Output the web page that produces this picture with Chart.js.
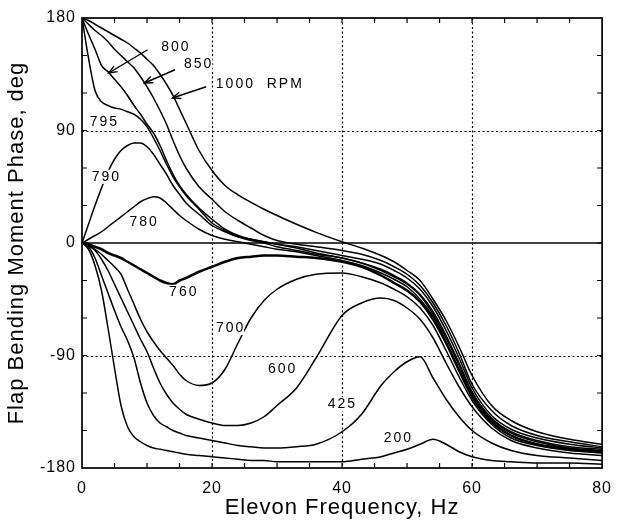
<!DOCTYPE html>
<html lang="en">
<head>
<meta charset="UTF-8">
<title>Flap Bending Moment Phase vs Elevon Frequency</title>
<script src="https://cdn.jsdelivr.net/npm/chart.js"></script>
<style>
  body { margin: 0; background: #fff; }
  canvas { display: block; }
</style>
</head>
<body>
<canvas id="chart" width="622" height="526"></canvas>
<script>
// elevon frequency, Hz (shared by every curve)
const freq = [0,1,2,3,4,5,6,7,8,9,10,11,12,13,14,15,16,18,20,22,24,26,28,30,33,36,40,43,46,48,50,52,54,56,58,60,63,66,70,75,80];

// phase, deg, one array per rotor speed (RPM)
const rpm1000 = [180,178,175,172,169,166,163,160,156,152,147,142,135,127,118,107,96, 74,58,46,38.5,32.5,27,22, 15,8.5,1,-4,-10,-15,-22,-30,-45,-62,-83,-106, -130,-142,-151,-157,-161];
const rpm850  = [180,175,170,166,161,155,150,145,140,133,125,116,106,95,82,70,60, 45,35,25,18,12,6,2, -1,-3,-6,-9,-14,-19,-25,-34,-48,-66,-88,-113, -134,-146,-154,-159,-163];
const rpm800  = [180,167,155,142,137,131,125,118,110,103,95,88,78,66,55,46,39, 28,19,11,6,3,1,-1, -3,-6,-10,-13,-17,-22,-28,-37,-51,-70,-92,-116, -138,-149,-156,-161,-164];
const rpm795  = [180,148,122,113,110,108,107,105,103,99,93,84,74,63,53,45,38, 27,16,10,5,2,0,-3, -6,-9,-12,-16,-21,-26,-32,-41,-55,-74,-96,-119, -140,-151,-158,-163,-165];
const rpm790  = [0,15,30,44,57,67,74,78,80,80,77,71,63,55,46,39,32, 23,14,9,5,3,1,-1, -4,-8,-12,-16,-22,-27,-33,-42,-57,-76,-98,-120, -141,-152,-159,-164,-166];
const rpm780  = [0,3,6,9,13,17,21,25,29,33,35.5,37,36,32,27,22,18, 11,6,3,1,-1,-3,-5, -7,-10,-14,-18,-24,-29,-35,-45,-59,-79,-101,-122, -143,-154,-161,-165,-167];
const rpm760  = [0,-1,-3,-5,-8,-10,-12,-15,-18,-21,-24,-27,-30,-32,-33,-30,-28, -23,-19,-15,-12,-11,-10,-10, -11,-12,-15,-19,-26,-32,-38,-47,-61,-80,-102,-123, -143,-154,-161,-165,-167];
const rpm700  = [0,-2,-5,-9,-14,-19,-25,-37,-49,-61,-71,-79,-86,-92,-98,-105,-110, -114,-112,-101,-80,-60,-46,-37, -29,-25,-24,-27,-32,-37,-43,-52,-66,-86,-107,-126, -145,-156,-162,-166,-168];
const rpm600  = [0,-2,-6,-13,-22,-33,-44,-55,-66,-77,-87,-100,-112,-121,-128,-133,-137, -141,-144,-146,-146,-144,-139,-130, -116,-92,-58,-48,-44,-46,-52,-61,-76,-96,-115,-131, -148,-158,-164,-168,-170];
const rpm425  = [0,-3,-12,-26,-40,-54,-67,-78,-92,-112,-128,-138,-144,-147,-150,-152,-154, -156,-158,-160,-162,-163,-164,-164, -163,-161,-151,-137,-114,-103,-95,-91,-108,-125,-139,-150, -160,-166,-170,-172,-174];
const rpm200  = [0,-5,-18,-38,-68,-100,-130,-147,-155,-159,-162,-164,-165,-166,-167,-168,-169, -170,-171,-172,-173,-174,-174,-175, -175,-175,-175,-173,-171,-168,-165,-161,-157,-161,-167,-171, -174,-175,-176,-176,-177];

const curves = [rpm1000, rpm850, rpm800, rpm795, rpm790, rpm780, rpm760, rpm700, rpm600, rpm425, rpm200];

// curve labels and leader arrows, in data units
const curveLabels = [
  { text: '800', x: 14.3, y: 157 },
  { text: '850', x: 17.8, y: 143 },
  { text: '1000  RPM', x: 27.2, y: 127 },
  { text: '795', x: 3.3, y: 97 },
  { text: '790', x: 3.6, y: 53 },
  { text: '780', x: 9.4, y: 17 },
  { text: '760', x: 15.5, y: -39 },
  { text: '700', x: 22.7, y: -68 },
  { text: '600', x: 30.7, y: -101 },
  { text: '425', x: 39.9, y: -129 },
  { text: '200', x: 48.5, y: -156 }
];
const arrows = [
  { from: [10.1, 154.6], to: [4.1, 136] },
  { from: [14.3, 138.6], to: [9.6, 128] },
  { from: [19.1, 125], to: [13.9, 116] }
];

const FONT = '"Liberation Sans", Arial, Helvetica, sans-serif';

const frame = {
  id: 'frame',
  beforeDraw(chart) {
    chart.ctx.letterSpacing = '1px';
  },
  beforeDatasetsDraw(chart) {
    const { ctx, chartArea: a, scales: { x, y } } = chart;
    ctx.save();
    ctx.strokeStyle = '#000';
    // dotted grid
    ctx.lineWidth = 1.2;
    ctx.setLineDash([2, 2.5]);
    [20, 40, 60].forEach(v => {
      const px = Math.round(x.getPixelForValue(v)) + 0.5;
      ctx.beginPath(); ctx.moveTo(px, a.top); ctx.lineTo(px, a.bottom); ctx.stroke();
    });
    [90, -90].forEach(v => {
      const py = Math.round(y.getPixelForValue(v)) + 0.5;
      ctx.beginPath(); ctx.moveTo(a.left, py); ctx.lineTo(a.right, py); ctx.stroke();
    });
    // zero line
    ctx.setLineDash([]);
    ctx.lineWidth = 1.7;
    const z = y.getPixelForValue(0);
    ctx.beginPath(); ctx.moveTo(a.left, z); ctx.lineTo(a.right, z); ctx.stroke();
    ctx.restore();
  },
  afterDatasetsDraw(chart) {
    const { ctx, chartArea: a, scales: { x, y } } = chart;
    ctx.save();
    ctx.strokeStyle = '#000';
    ctx.fillStyle = '#000';
    ctx.lineWidth = 1.7;
    ctx.strokeRect(a.left, a.top, a.right - a.left, a.bottom - a.top);
    // inward ticks
    ctx.lineWidth = 1.2;
    for (let v = 5; v < 80; v += 5) {
      const px = x.getPixelForValue(v);
      ctx.beginPath();
      ctx.moveTo(px, a.bottom); ctx.lineTo(px, a.bottom - 5);
      ctx.moveTo(px, a.top); ctx.lineTo(px, a.top + 5);
      ctx.stroke();
    }
    for (let v = -150; v < 180; v += 30) {
      const py = y.getPixelForValue(v);
      ctx.beginPath();
      ctx.moveTo(a.left, py); ctx.lineTo(a.left + 5, py);
      ctx.moveTo(a.right, py); ctx.lineTo(a.right - 5, py);
      ctx.stroke();
    }
    // curve labels
    ctx.font = '14px ' + FONT;
    ctx.letterSpacing = '2px';
    ctx.textAlign = 'center';
    ctx.textBaseline = 'middle';
    curveLabels.forEach(l => {
      const px = x.getPixelForValue(l.x), py = y.getPixelForValue(l.y);
      const w = ctx.measureText(l.text).width;
      ctx.fillStyle = '#fff';
      ctx.fillRect(px - w / 2 - 1, py - 7, w + 1, 14);
      ctx.fillStyle = '#000';
      ctx.fillText(l.text, px + 1, py);
    });
    // arrows
    ctx.lineWidth = 1.4;
    arrows.forEach(ar => {
      const x1 = x.getPixelForValue(ar.from[0]), y1 = y.getPixelForValue(ar.from[1]);
      const x2 = x.getPixelForValue(ar.to[0]), y2 = y.getPixelForValue(ar.to[1]);
      ctx.beginPath(); ctx.moveTo(x1, y1); ctx.lineTo(x2, y2); ctx.stroke();
      const ang = Math.atan2(y1 - y2, x1 - x2);
      ctx.beginPath();
      ctx.moveTo(x2 + 9 * Math.cos(ang + 0.38), y2 + 9 * Math.sin(ang + 0.38));
      ctx.lineTo(x2, y2);
      ctx.lineTo(x2 + 9 * Math.cos(ang - 0.38), y2 + 9 * Math.sin(ang - 0.38));
      ctx.stroke();
    });
    ctx.restore();
  }
};

new Chart(document.getElementById('chart'), {
  type: 'line',
  data: {
    datasets: curves.map(c => ({
      data: freq.map((f, i) => ({ x: f, y: c[i] })),
      borderColor: '#000',
      borderWidth: c === rpm760 ? 2.5 : 1.5,
      pointRadius: 0,
      fill: false,
      cubicInterpolationMode: 'monotone'
    }))
  },
  options: {
    responsive: false,
    animation: false,
    layout: { padding: { top: 18, right: 5, left: 0, bottom: 0 } },
    plugins: { legend: { display: false }, tooltip: { enabled: false } },
    scales: {
      x: {
        type: 'linear', min: 0, max: 80,
        afterFit: s => { s.height = 58; },
        grid: { display: false, drawTicks: false },
        border: { display: false },
        ticks: { stepSize: 20, padding: 11, color: '#000', maxRotation: 0, autoSkip: false,
                 font: { size: 16, family: FONT } },
        title: { display: true, text: 'Elevon Frequency, Hz', color: '#000',
                 font: { size: 22, family: FONT }, padding: { top: 0, bottom: 5 } }
      },
      y: {
        min: -180, max: 180,
        afterFit: s => { s.width = 82; },
        grid: { display: false, drawTicks: false },
        border: { display: false },
        ticks: { stepSize: 90, padding: 6, color: '#000', autoSkip: false,
                 font: { size: 16, family: FONT } },
        title: { display: true, text: 'Flap Bending Moment Phase, deg', color: '#000',
                 font: { size: 22, family: FONT }, padding: { top: 4, bottom: 0 } }
      }
    }
  },
  plugins: [frame]
});
</script>
</body>
</html>
